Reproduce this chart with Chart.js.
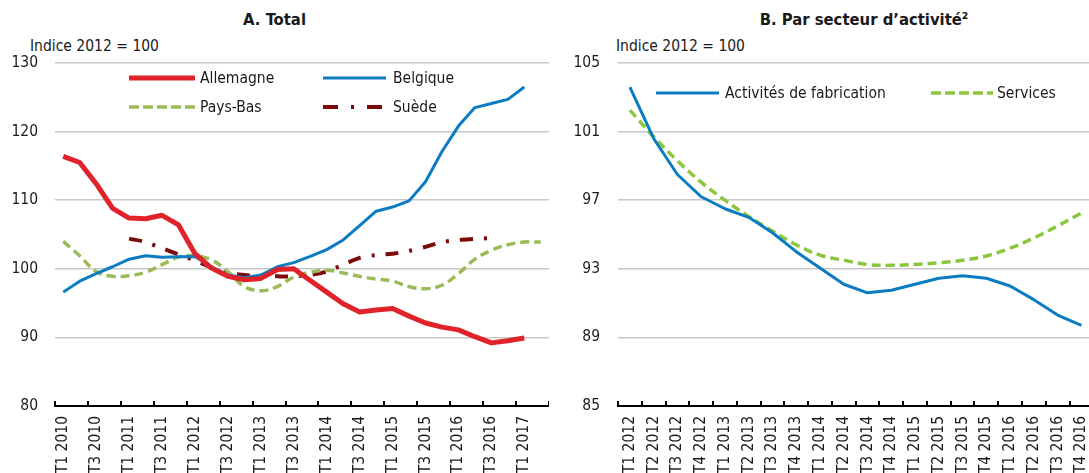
<!DOCTYPE html>
<html>
<head>
<meta charset="utf-8">
<script src="https://cdn.jsdelivr.net/npm/chart.js@4.4.1/dist/chart.umd.min.js"></script>
<style>
html,body{margin:0;padding:0;width:1089px;height:473px;overflow:hidden;background:#fff;}
body{position:relative;font-family:"DejaVu Sans Condensed","DejaVu Sans",sans-serif;font-stretch:condensed;color:#1a1a1a;}
.t{position:absolute;white-space:nowrap;font-size:15.5px;line-height:20px;}
.b{font-weight:bold;font-size:16.5px;}
canvas{position:absolute;top:0;}
</style>
</head>
<body>
<div class="t b" id="titleA" style="left:0;width:549px;text-align:center;top:10px;">A. Total</div>
<div class="t" style="left:30px;top:36px;">Indice 2012 = 100</div>
<div class="t b" id="titleB" style="left:657px;width:414px;text-align:center;top:10px;">B. Par secteur d’activité²</div>
<div class="t" style="left:616px;top:36px;">Indice 2012 = 100</div>
<canvas id="cA" width="549" height="473" style="left:0;width:549px;height:473px;"></canvas>
<canvas id="cB" width="553" height="473" style="left:549px;width:553px;height:473px;"></canvas>
<script>
// ---------- DATA ----------
const catA = ['T1 2010','T2 2010','T3 2010','T4 2010','T1 2011','T2 2011','T3 2011','T4 2011',
  'T1 2012','T2 2012','T3 2012','T4 2012','T1 2013','T2 2013','T3 2013','T4 2013',
  'T1 2014','T2 2014','T3 2014','T4 2014','T1 2015','T2 2015','T3 2015','T4 2015',
  'T1 2016','T2 2016','T3 2016','T4 2016','T1 2017','T2 2017'];
const allemagne = [116.4,115.5,112.4,108.8,107.4,107.3,107.8,106.4,102.2,100.1,98.9,98.4,98.6,99.9,100.0,98.3,
  96.6,94.9,93.7,94.0,94.2,93.1,92.1,91.5,91.1,90.1,89.2,89.5,89.9,null];
const belgique = [96.6,98.2,99.3,100.3,101.4,101.9,101.7,101.75,101.8,100.3,99.1,98.7,99.1,100.3,100.9,101.8,
  102.8,104.2,106.3,108.4,109.0,109.9,112.7,117.1,120.8,123.5,124.1,124.7,126.5,null];
const paysBas = [104.0,101.9,99.6,98.9,99.0,99.5,100.6,101.7,101.9,101.3,99.6,97.4,96.8,97.4,98.8,99.5,
  99.8,99.4,98.9,98.5,98.2,97.4,97.1,97.6,99.3,101.4,102.7,103.5,103.9,103.9];
const suede = [null,null,null,null,104.4,103.9,103.0,102.1,101.2,100.2,99.4,99.1,98.95,98.9,98.9,99.1,
  99.6,100.6,101.6,102.0,102.2,102.6,103.2,103.9,104.2,104.35,104.5,null,null,null];

const catB = ['T1 2012','T2 2012','T3 2012','T4 2012','T1 2013','T2 2013','T3 2013','T4 2013',
  'T1 2014','T2 2014','T3 2014','T4 2014','T1 2015','T2 2015','T3 2015','T4 2015',
  'T1 2016','T2 2016','T3 2016','T4 2016'];
const fabrication = [103.6,100.6,98.5,97.2,96.5,96.0,95.1,94.0,93.05,92.1,91.6,91.75,92.1,92.45,92.6,92.45,
  92.0,91.2,90.3,89.7];
const services = [102.25,100.7,99.3,98.05,97.0,96.05,95.2,94.4,93.8,93.5,93.25,93.2,93.25,93.35,93.5,93.75,
  94.2,94.8,95.5,96.25];

const yTicksA = {min:80, max:130, step:10};
const yTicksB = {min:85, max:105, step:4};

// ---------- STYLE ----------
const FONT = '"DejaVu Sans Condensed","DejaVu Sans",sans-serif';
const FSIZE = 15.5;
const TXT = '#1a1a1a';
const GRID = '#c8c8c8';

const insideTicks = {
  id:'insideTicks',
  afterDraw(chart, args, opts){
    const s = chart.scales.x, ctx = chart.ctx;
    const n = chart.data.labels.length;
    const p0 = s.getPixelForValue(0), p1 = s.getPixelForValue(1);
    const w = p1 - p0;
    ctx.save();
    ctx.strokeStyle = '#000'; ctx.lineWidth = 2;
    for(let i=0;i<=n;i+=opts.step){
      const x = Math.round(p0 - w/2 + i*w);
      ctx.beginPath(); ctx.moveTo(x, s.top+1); ctx.lineTo(x, s.top-5); ctx.stroke();
    }
    ctx.restore();
  }
};
const customLegend = {
  id:'customLegend',
  afterDraw(chart, args, opts){
    const ctx = chart.ctx;
    ctx.save();
    opts.items.forEach(it=>{
      const ds = chart.data.datasets[it.ds];
      ctx.strokeStyle = ds.borderColor; ctx.lineWidth = ds.borderWidth;
      ctx.setLineDash(it.dash || ds.borderDash || []);
      ctx.lineCap = 'butt';
      ctx.beginPath(); ctx.moveTo(it.x1, it.y); ctx.lineTo(it.x2, it.y); ctx.stroke();
      ctx.setLineDash([]);
      ctx.fillStyle = TXT; ctx.font = FSIZE + 'px ' + FONT; ctx.textBaseline = 'middle'; ctx.textAlign = 'left';
      ctx.fillText(ds.label, it.tx, it.y+1);
    });
    ctx.restore();
  }
};

function makeOpts(yt, yWidth, step, labels, legendItems, ypad){
  return {
    responsive:false, animation:false, devicePixelRatio:1,
    layout:{padding:{top:63,left:0,right:0,bottom:0}},
    plugins:{legend:{display:false}, title:{display:false}, tooltip:{enabled:false},
      insideTicks:{step:step}, customLegend:{items:legendItems}},
    scales:{
      x:{type:'category', offset:true,
        grid:{display:false},
        border:{display:true, color:'#000', width:2},
        ticks:{autoSkip:false, maxRotation:90, minRotation:90, padding:2, color:TXT,
          font:{family:FONT, size:FSIZE},
          callback:function(v,i){ return i%step===0 ? labels[i] : null; }},
        afterFit:(s)=>{ s.height = 67; }
      },
      y:{min:yt.min, max:yt.max,
        ticks:{stepSize:yt.step, padding:ypad, color:TXT, font:{family:FONT, size:FSIZE}},
        grid:{color:GRID, lineWidth:1.5, drawTicks:false},
        border:{display:false},
        afterFit:(s)=>{ s.width = yWidth; }
      }
    }
  };
}

new Chart(document.getElementById('cA'), {
  type:'line',
  data:{labels:catA, datasets:[
    {label:'Allemagne', data:allemagne, borderColor:'#e0222b', borderWidth:5, pointRadius:0, tension:0, borderJoinStyle:'round'},
    {label:'Belgique', data:belgique, borderColor:'#0c7cc2', borderWidth:3, pointRadius:0, tension:0, borderJoinStyle:'round'},
    {label:'Pays-Bas', data:paysBas, borderColor:'#9bbb59', borderWidth:3.5, borderDash:[9,5], pointRadius:0, tension:0.4},
    {label:'Suède', data:suede, borderColor:'#7d0a0a', borderWidth:4, borderDash:[13,11,3,11], pointRadius:0, tension:0.3}
  ]},
  options: makeOpts(yTicksA, 55, 2, catA, [
    {ds:0, x1:129, x2:195, tx:200, y:78},
    {ds:1, x1:323, x2:386, tx:393, y:78},
    {ds:2, x1:129, x2:195, tx:200, y:107, dash:[10,4]},
    {ds:3, x1:323, x2:386, tx:393, y:107, dash:[15,13,3,13]}
  ], 17),
  plugins:[insideTicks, customLegend]
});

new Chart(document.getElementById('cB'), {
  type:'line',
  data:{labels:catB, datasets:[
    {label:'Activités de fabrication', data:fabrication, borderColor:'#0c7cc2', borderWidth:3, pointRadius:0, tension:0, borderJoinStyle:'round'},
    {label:'Services', data:services, borderColor:'#8cc63f', borderWidth:3.5, borderDash:[9,5], pointRadius:0, tension:0.4}
  ]},
  options: makeOpts(yTicksB, 69, 1, catB, [
    {ds:0, x1:107, x2:170, tx:176, y:93},
    {ds:1, x1:382, x2:444, tx:448, y:93, dash:[10,4]}
  ], 18),
  plugins:[insideTicks, customLegend]
});
</script>
</body>
</html>
